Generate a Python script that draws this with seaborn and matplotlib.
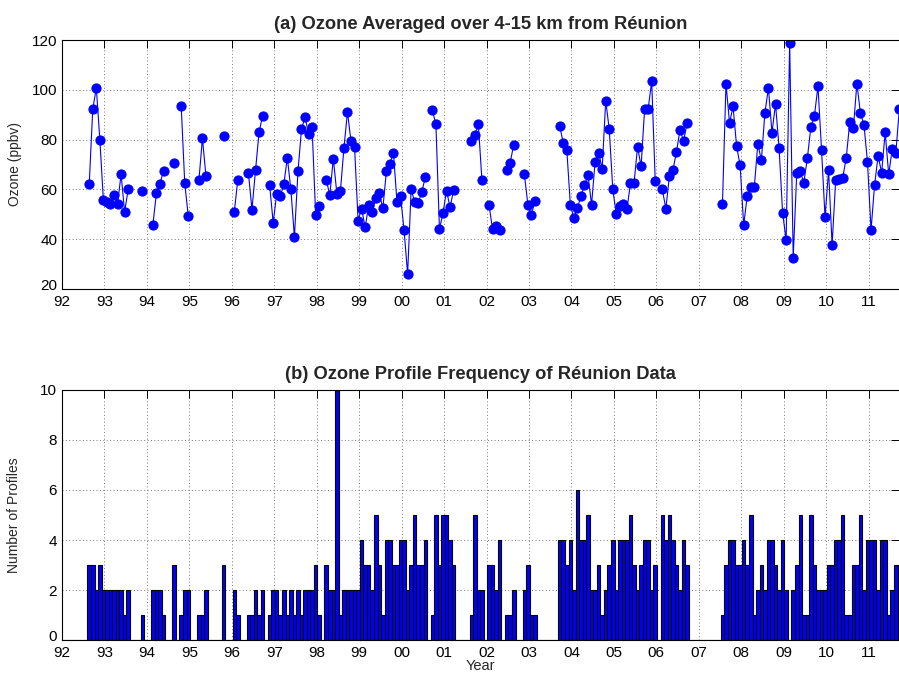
import numpy as np
import pandas as pd
import matplotlib
matplotlib.use("Agg")
import matplotlib.pyplot as plt
import matplotlib.transforms as mtransforms
import seaborn as sns

# ---------------- data (monthly, Jan..Dec; None = no data) ----------------
years = list(range(1992, 2012))

ozone_1992 = [None, None, None, None, None, None, None, 62.3, 92.3, 100.8, 79.9, 55.7]
ozone_1993 = [54.9, 54.3, 57.7, 54.0, 66.1, 50.9, 60.0, None, None, None, 59.3, None]
ozone_1994 = [None, 45.9, 58.7, 62.3, 67.5, None, None, 70.8, None, 93.3, 62.5, 49.2]
ozone_1995 = [None, None, 63.7, 80.5, 65.3, None, None, None, None, 81.6, None, None]
ozone_1996 = [50.9, 63.9, None, None, 66.5, 51.9, 67.6, 82.9, 89.6, None, 61.6, 46.6]
ozone_1997 = [58.3, 57.2, 62.0, 72.7, 60.0, 40.8, 67.2, 84.1, 89.1, 82.3, 84.9, 49.9]
ozone_1998 = [53.5, None, 63.9, 57.7, 72.4, 58.3, 59.3, 76.7, 91.1, 79.3, 77.1, 47.5]
ozone_1999 = [52.3, 44.7, 53.7, 50.9, 56.5, 58.4, 52.4, 67.2, 70.4, 74.7, 54.8, 57.2]
ozone_2000 = [43.6, 26.0, 60.0, 54.9, 54.5, 58.9, 64.9, None, 91.7, 86.1, 44.0, 50.5]
ozone_2001 = [59.5, 52.8, 59.7, None, None, None, None, 79.5, 81.7, 86.1, 63.9, None]
ozone_2002 = [53.9, 44.0, 45.2, 43.6, None, 67.7, 70.8, 78.0, None, None, 66.1, 53.9]
ozone_2003 = [49.9, 55.3, None, None, None, None, None, None, 85.5, 78.5, 75.9, 53.9]
ozone_2004 = [48.5, 52.5, 57.3, 61.7, 65.6, 53.9, 71.1, 74.8, 68.3, 95.7, 84.1, 60.0]
ozone_2005 = [50.0, 53.3, 54.3, 52.1, 62.4, 62.4, 77.1, 69.2, 92.3, 92.3, 103.5, 63.2]
ozone_2006 = [None, 60.0, 52.3, 65.2, 67.7, 75.1, 83.9, 79.5, 86.5, None, None, None]
ozone_2007 = [None, None, None, None, None, None, 54.1, 102.5, 86.7, 93.3, 77.3, 69.6]
ozone_2008 = [45.6, 57.3, 60.9, 60.9, 78.3, 71.7, 90.8, 100.7, 82.7, 94.4, 76.8, 50.7]
ozone_2009 = [39.6, 118.8, 32.5, 66.5, 67.2, 62.7, 72.5, 85.1, 89.5, 101.5, 76.0, 48.9]
ozone_2010 = [67.6, 37.7, 63.6, 64.0, 64.7, 72.8, 87.2, 84.5, 102.5, 90.7, 85.9, 71.1]
ozone_2011 = [43.6, 61.7, 73.5, 66.7, 82.9, 66.0, 76.3, 74.5, 92.1]

count_1992 = [0, 0, 0, 0, 0, 0, 0, 3, 3, 2, 3, 2]
count_1993 = [2, 2, 2, 2, 2, 1, 2, 0, 0, 0, 1, 0]
count_1994 = [0, 2, 2, 2, 1, 0, 0, 3, 0, 1, 2, 2]
count_1995 = [0, 0, 1, 1, 2, 0, 0, 0, 0, 3, 0, 0]
count_1996 = [2, 1, 0, 0, 1, 1, 2, 1, 2, 0, 1, 2]
count_1997 = [2, 1, 2, 1, 2, 1, 2, 1, 2, 2, 2, 3]
count_1998 = [1, 0, 3, 2, 2, 10, 1, 2, 2, 2, 2, 2]
count_1999 = [4, 3, 3, 2, 5, 3, 1, 4, 4, 3, 3, 4]
count_2000 = [4, 2, 3, 5, 3, 3, 4, 0, 1, 5, 3, 5]
count_2001 = [5, 4, 3, 0, 0, 0, 0, 1, 5, 2, 2, 0]
count_2002 = [3, 3, 2, 4, 0, 1, 1, 2, 0, 0, 2, 3]
count_2003 = [1, 1, 0, 0, 0, 0, 0, 0, 4, 4, 3, 4]
count_2004 = [2, 6, 4, 4, 5, 2, 2, 3, 1, 2, 3, 4]
count_2005 = [2, 4, 4, 4, 5, 3, 2, 3, 4, 4, 2, 3]
count_2006 = [0, 5, 4, 5, 4, 3, 2, 4, 3, 0, 0, 0]
count_2007 = [0, 0, 0, 0, 0, 0, 1, 3, 4, 4, 3, 3]
count_2008 = [4, 3, 5, 1, 2, 3, 2, 4, 4, 3, 2, 4]
count_2009 = [2, 0, 2, 3, 5, 1, 1, 5, 3, 2, 2, 2]
count_2010 = [3, 3, 4, 4, 5, 1, 1, 3, 3, 5, 2, 4]
count_2011 = [4, 4, 2, 4, 4, 1, 2, 3, 3]

ozone_by_year = [ozone_1992, ozone_1993, ozone_1994, ozone_1995, ozone_1996,
                 ozone_1997, ozone_1998, ozone_1999, ozone_2000, ozone_2001,
                 ozone_2002, ozone_2003, ozone_2004, ozone_2005, ozone_2006,
                 ozone_2007, ozone_2008, ozone_2009, ozone_2010, ozone_2011]
count_by_year = [count_1992, count_1993, count_1994, count_1995, count_1996,
                 count_1997, count_1998, count_1999, count_2000, count_2001,
                 count_2002, count_2003, count_2004, count_2005, count_2006,
                 count_2007, count_2008, count_2009, count_2010, count_2011]

tick_years = list(range(1992, 2012))
tick_labels = [f"{y % 100:02d}" for y in tick_years]

# ---------------- build tables ----------------
rows = []
for y, oz, ct in zip(years, ozone_by_year, count_by_year):
    for mi in range(len(ct)):
        rows.append({"year": y, "month": mi,
                     "ozone": oz[mi] if mi < len(oz) else None,
                     "count": float(ct[mi])})
df = pd.DataFrame(rows)
CENTER = 0.7
df["t"] = df["year"] + (df["month"] + CENTER) / 12.0
df["ozone"] = df["ozone"].astype(float)
df["segment"] = df["ozone"].isna().cumsum()
oz_df = df.dropna(subset=["ozone"])

# ---------------- figure ----------------
sns.set_theme(style="white")
plt.rcParams["font.family"] = ["Liberation Sans", "DejaVu Sans"]

W, H = 899, 676
fig = plt.figure(figsize=(W / 100, H / 100), dpi=100)
left = 62 / W
width = 837 / W
ax1 = fig.add_axes([left, 1 - 289 / H, width, (289 - 40) / H])
ax2 = fig.add_axes([left, 1 - 640 / H, width, (640 - 390) / H])

xmin, xmax = 1992.0, 1992.0 + 837 / 42.45

sns.lineplot(data=oz_df, x="t", y="ozone", units="segment", estimator=None,
             color="#0000ff", linewidth=0.8, marker="o", markersize=6.6,
             markeredgecolor="#0000ff", markerfacecolor="#0000ff",
             legend=False, ax=ax1, sort=True)

edges = (np.arange(len(df) + 1) / 12.0 + 1992 + (CENTER - 0.5) / 12.0).tolist()
sns.histplot(data=df, x="t", weights="count", bins=edges, color="#0000ff",
             edgecolor="black", linewidth=0.8, alpha=1.0, ax=ax2)

for ax in (ax1, ax2):
    ax.set_xlim(xmin, xmax)
    ax.set_xticks(tick_years)
    ax.set_xticklabels(tick_labels)
    ax.grid(True, linestyle=(0, (1, 2.5)), color="#555555", linewidth=0.7, alpha=0.8)
    ax.set_axisbelow(True)
    ax.tick_params(direction="in", length=5.5, width=0.7, top=True, right=True,
                   labelsize=11, colors="black", pad=3.5)
    ax.tick_params(axis="x", pad=4.5)
    for s in ax.spines.values():
        s.set_color("black")
        s.set_linewidth(0.8)
    ax.spines["right"].set_visible(False)

ax1.set_ylim(20, 120)
ax1.set_yticks([20, 40, 60, 80, 100, 120])
ax1.set_xlabel("")
ax1.set_ylabel("Ozone (ppbv)", fontsize=10, labelpad=7)
ax1.set_title("(a) Ozone Averaged over 4-15 km from Réunion", fontsize=13.2,
              fontweight="bold", pad=8)

ax2.set_ylim(0, 10)
ax2.set_yticks([0, 2, 4, 6, 8, 10])
ax2.set_xlabel("Year", fontsize=10.5, labelpad=-1)
ax2.set_ylabel("Number of Profiles", fontsize=10, labelpad=14)
ax2.set_title("(b) Ozone Profile Frequency of Réunion Data", fontsize=13.2,
              fontweight="bold", pad=8)

# nudge the lowest y tick labels up slightly so they clear the x tick labels
shift = mtransforms.ScaledTranslation(0, 3 / 72, fig.dpi_scale_trans)
for ax in (ax1, ax2):
    lbl = ax.get_yticklabels()[0]
    lbl.set_transform(lbl.get_transform() + shift)

fig.savefig("out.png", dpi=100)
